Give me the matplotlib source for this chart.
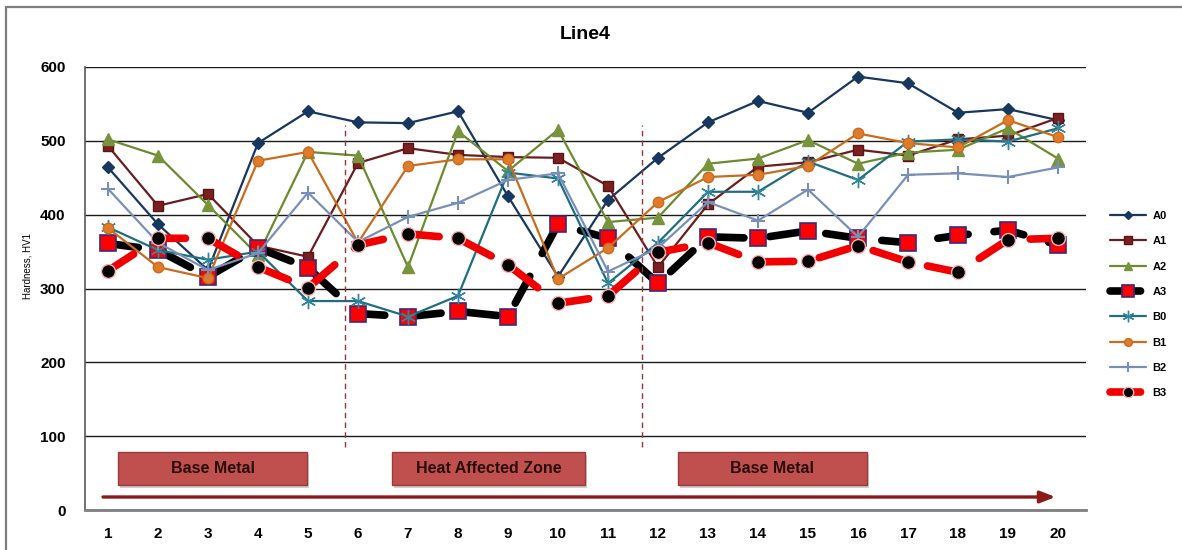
import matplotlib
matplotlib.use("Agg")
import matplotlib.pyplot as plt
from matplotlib.patches import Rectangle

plt.rcParams['font.family'] = ['Liberation Sans', 'DejaVu Sans']

# ---- data -------------------------------------------------------------
points = list(range(1, 21))

A0 = [464, 387, 325, 497, 540, 525, 524, 540, 425, 316, 420, 477, 525, 554, 538, 587, 578, 538, 543, 528]
A1 = [493, 412, 428, 358, 343, 470, 490, 481, 478, 477, 439, 329, 414, 465, 471, 488, 480, 502, 507, 531]
A2 = [502, 480, 413, 345, 485, 480, 329, 513, 459, 515, 390, 396, 469, 476, 501, 469, 484, 488, 517, 476]
A3 = [361, 352, 316, 355, 328, 266, 262, 269, 262, 387, 368, 307, 370, 368, 378, 368, 362, 372, 379, 359]
B0 = [383, 352, 339, 350, 283, 283, 262, 290, 457, 449, 307, 362, 431, 431, 472, 447, 499, 502, 499, 517]
B1 = [382, 329, 314, 473, 485, 362, 466, 475, 475, 313, 355, 417, 451, 454, 466, 510, 497, 491, 528, 505]
B2 = [435, 362, 325, 348, 430, 363, 397, 416, 447, 456, 323, 355, 417, 392, 434, 370, 454, 456, 451, 464]
B3 = [324, 368, 368, 329, 301, 359, 374, 368, 332, 280, 290, 349, 362, 336, 337, 358, 336, 322, 366, 368]

zone_labels = ["Base Metal", "Heat Affected Zone", "Base Metal"]
zone_spans = [(1.2, 4.98), (6.68, 10.54), (12.4, 16.18)]
zone_bounds = [5.74, 11.68]

# ---- figure -----------------------------------------------------------
W, H = 1182, 550
fig = plt.figure(figsize=(W / 100, H / 100), dpi=100)

# outer chart frame
fig.patches.append(Rectangle((6 / W, -0.1), 1.2, (550 - 7) / H + 0.1,
                             transform=fig.transFigure, fill=False,
                             edgecolor='#7f7f7f', linewidth=1.6))

ax = fig.add_axes([85 / W, (550 - 510) / H, (1086 - 85) / W, (510 - 67) / H])
ax.set_xlim(0.54, 20.56)
ax.set_ylim(0, 600)

ax.set_yticks(range(0, 601, 100))
ax.yaxis.grid(True, color='#1a1a1a', linewidth=1.0)
ax.set_axisbelow(True)
for s in ['top', 'right']:
    ax.spines[s].set_visible(False)
ax.spines['left'].set_color('#595959')
ax.spines['bottom'].set_color('#7f7f7f')
ax.spines['left'].set_linewidth(1.2)
ax.spines['bottom'].set_linewidth(2.0)

ax.set_xticks(points)
ax.tick_params(axis='both', length=0, labelsize=11)
ax.tick_params(axis='x', pad=12)
ax.tick_params(axis='y', pad=14)
for lbl in ax.get_xticklabels() + ax.get_yticklabels():
    lbl.set_fontweight('bold')

ax.set_ylabel("Hardness, HV1", fontsize=7)
ax.yaxis.set_label_coords(-52 / 1001, 0.55)
ax.set_title("Line4", fontsize=14, fontweight='bold', pad=20)

# ---- series -----------------------------------------------------------
series = [
    ("A0", A0, dict(color='#17375e', marker='D', ms=6, mfc='#17375e', mec='#17375e', lw=1.6)),
    ("A1", A1, dict(color='#6b1d1d', marker='s', ms=7.5, mfc='#7a2020', mec='#5a1414', lw=1.6)),
    ("A2", A2, dict(color='#6a8b2e', marker='^', ms=8.5, mfc='#77933c', mec='#77933c', lw=1.6)),
    ("A3", A3, dict(color='black', marker='s', ms=11, mfc='#ff0000', mec='#3b2a7a', mew=1.2,
                    lw=5.5, dash_capstyle='round', dashes=(4.0, 3.4))),
    ("B0", B0, dict(color='#1f6e80', marker=(6, 2, 0), ms=11, mfc='#31859c', mec='#31859c', lw=1.6)),
    ("B1", B1, dict(color='#c86c1e', marker='o', ms=7.5, mfc='#e07b2a', mec='#c86c1e', lw=1.6)),
    ("B2", B2, dict(color='#7890b8', marker='+', ms=10, mfc='#7890b8', mec='#7890b8', mew=1.5, lw=1.6)),
    ("B3", B3, dict(color='#f00000', marker='o', ms=10, mfc='black', mec='#ffb0b0', mew=1.0,
                    lw=5.5, dash_capstyle='round', dashes=(4.0, 3.4))),
]
for name, vals, kw in series:
    ax.plot(points, vals, label=name, solid_capstyle='round', **kw)

# zone boundaries
for xb in zone_bounds:
    ax.plot([xb, xb], [85, 521], color='#943634', lw=1.0, dashes=(4, 3))

# zone label boxes
for (x0, x1), text in zip(zone_spans, zone_labels):
    ax.add_patch(Rectangle((x0 + 0.04, 34 - 4), x1 - x0, 44, facecolor='#b0b0b0',
                           edgecolor='none', alpha=0.6, zorder=4))
    ax.add_patch(Rectangle((x0, 34), x1 - x0, 44, facecolor='#c0504d',
                           edgecolor='#9c3b39', linewidth=1.0, zorder=5))
    ax.text((x0 + x1) / 2, 56, text, ha='center', va='center', fontsize=11.5,
            fontweight='bold', color='#2a0e0e', zorder=6)

# direction arrow along the traverse
ax.annotate("", xy=(19.95, 17.6), xytext=(0.9, 17.6),
            arrowprops=dict(arrowstyle='-|>,head_length=0.9,head_width=0.35',
                            color='#8b1a1a', lw=2.4, shrinkA=0, shrinkB=0), zorder=6)

# legend
handles, labels = ax.get_legend_handles_labels()
leg = fig.legend(handles, labels, loc='upper left',
                 bbox_to_anchor=(1100 / W, (550 - 201) / H), frameon=False,
                 fontsize=8, labelspacing=1.38, handlelength=3.2, handletextpad=0.6,
                 markerscale=0.75)
for t in leg.get_texts():
    t.set_fontweight('bold')

fig.savefig("out.png", dpi=100)
